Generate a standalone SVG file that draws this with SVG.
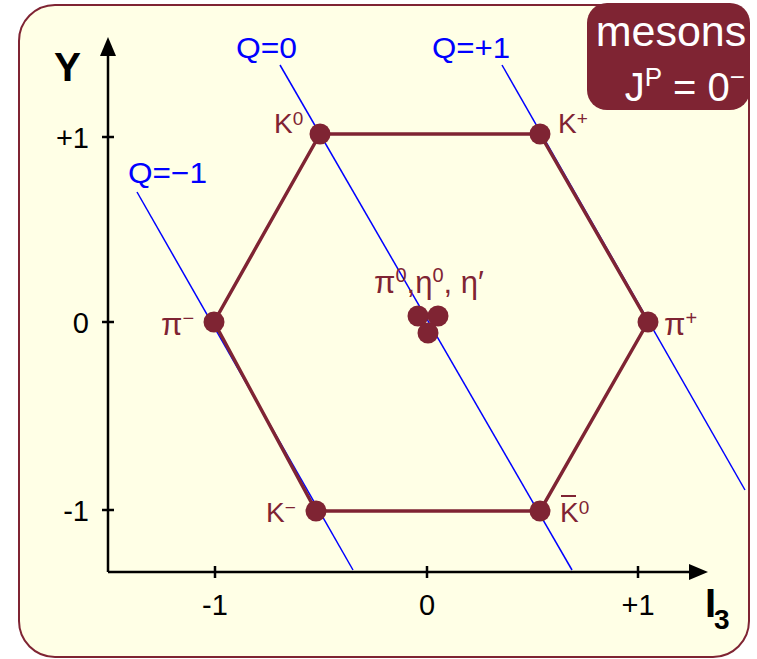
<svg xmlns="http://www.w3.org/2000/svg" width="757" height="659" viewBox="0 0 757 659">
<defs>
<style>
.t{font-family:"Liberation Sans","Open Sans",Arial,sans-serif;}
.ax{font-family:"Liberation Sans",Arial,sans-serif;font-size:29px;fill:#000;}
.ql{font-family:"Liberation Sans",Arial,sans-serif;font-size:29px;fill:#0000ff;}
.pl{font-family:"Liberation Sans",Arial,sans-serif;font-size:31px;fill:#7f2433;}
.pk{font-family:"Liberation Sans",Arial,sans-serif;font-size:28px;fill:#7f2433;}
.q{stroke:#0000ff;stroke-width:1.5;fill:none;}
.hex{stroke:#7f2433;stroke-width:3.5;fill:none;stroke-linejoin:round;}
.dot{fill:#7f2433;}
.axis{stroke:#000;stroke-width:2.5;fill:none;}
</style>
</defs>
<rect x="19" y="5" width="730" height="652" rx="36" fill="#ffffe6" stroke="#7f2433" stroke-width="2"/>
<g id="axes">
<line class="axis" x1="108" y1="572" x2="108" y2="44"/>
<path d="M100,56 L108,37 L116,56 Z" fill="#000"/>
<line class="axis" x1="108" y1="572" x2="694" y2="572"/>
<path d="M689,564 L708,572 L689,580 Z" fill="#000"/>
<line class="axis" stroke-width="1.5" x1="102" y1="137" x2="114" y2="137"/>
<line class="axis" stroke-width="1.5" x1="102" y1="322" x2="114" y2="322"/>
<line class="axis" stroke-width="1.5" x1="102" y1="510" x2="114" y2="510"/>
<line class="axis" stroke-width="1.5" x1="215" y1="566" x2="215" y2="578"/>
<line class="axis" stroke-width="1.5" x1="427" y1="566" x2="427" y2="578"/>
<line class="axis" stroke-width="1.5" x1="638" y1="566" x2="638" y2="578"/>
<text class="t" x="54" y="81" font-size="40" font-weight="bold" textLength="27" lengthAdjust="spacingAndGlyphs">Y</text>
<text class="ax" x="89" y="148" text-anchor="end">+1</text>
<text class="ax" x="89" y="333" text-anchor="end">0</text>
<text class="ax" x="89" y="521" text-anchor="end">-1</text>
<text class="ax" x="215" y="615" text-anchor="middle">-1</text>
<text class="ax" x="427" y="615" text-anchor="middle">0</text>
<text class="ax" x="638" y="615" text-anchor="middle">+1</text>
<text class="t" x="705" y="617" font-size="40" font-weight="bold">I</text>
<text class="t" x="714" y="629" font-size="28" font-weight="bold">3</text>
</g>
<g id="connectors">
<line class="q" x1="137" y1="192" x2="353" y2="570"/>
<line class="q" x1="280" y1="65" x2="572" y2="570"/>
<line class="q" x1="502" y1="65" x2="745" y2="490"/>
<polygon class="hex" points="320,134 540,134 648,322 540,511 316,511 214,322"/>
</g>
<g id="qlabels">
<text class="ql" x="236" y="58" textLength="61" lengthAdjust="spacingAndGlyphs">Q=0</text>
<text class="ql" x="432" y="58" textLength="78" lengthAdjust="spacingAndGlyphs">Q=+1</text>
<text class="ql" x="128" y="183" textLength="79" lengthAdjust="spacingAndGlyphs">Q=−1</text>
</g>
<g id="K0"><circle class="dot" cx="320" cy="134" r="10.5"/><text class="pk" x="274" y="133">K<tspan font-size="19" dy="-8">0</tspan></text></g>
<g id="Kplus"><circle class="dot" cx="540" cy="134" r="10.5"/><text class="pk" x="558" y="133">K<tspan font-size="19" dy="-8">+</tspan></text></g>
<g id="piminus"><circle class="dot" cx="214" cy="322" r="10.5"/><text class="pl" x="161" y="335">π<tspan font-size="20" dy="-10">−</tspan></text></g>
<g id="piplus"><circle class="dot" cx="648" cy="322" r="10.5"/><text class="pl" x="664" y="335">π<tspan font-size="20" dy="-10">+</tspan></text></g>
<g id="Kminus"><circle class="dot" cx="316" cy="511" r="10.5"/><text class="pk" x="266" y="522">K<tspan font-size="19" dy="-8">−</tspan></text></g>
<g id="K0bar"><circle class="dot" cx="540" cy="511" r="10.5"/><text class="pk" x="560" y="522">K<tspan font-size="19" dy="-8">0</tspan></text><line x1="561" y1="496" x2="576" y2="496" stroke="#7f2433" stroke-width="2"/></g>
<g id="center">
<circle class="dot" cx="418" cy="316" r="10.5"/>
<circle class="dot" cx="438" cy="316" r="10.5"/>
<circle class="dot" cx="428" cy="333" r="10.5"/>
<text class="pl" x="374" y="293">π<tspan font-size="20" dy="-11">0</tspan><tspan dy="11">,η</tspan><tspan font-size="20" dy="-11">0</tspan><tspan dy="11">, η′</tspan></text>
</g>
<g id="title">
<rect x="587" y="3" width="163" height="107" rx="20" fill="#7f2433"/>
<text class="t" x="671" y="46" font-size="43" fill="#fff" text-anchor="middle">mesons</text>
<text class="t" x="745" y="101" font-size="40" fill="#fff" text-anchor="end">J<tspan font-size="26" dy="-15">P</tspan><tspan dy="15"> = 0</tspan><tspan font-size="26" dy="-15">−</tspan></text>
</g>
</svg>
